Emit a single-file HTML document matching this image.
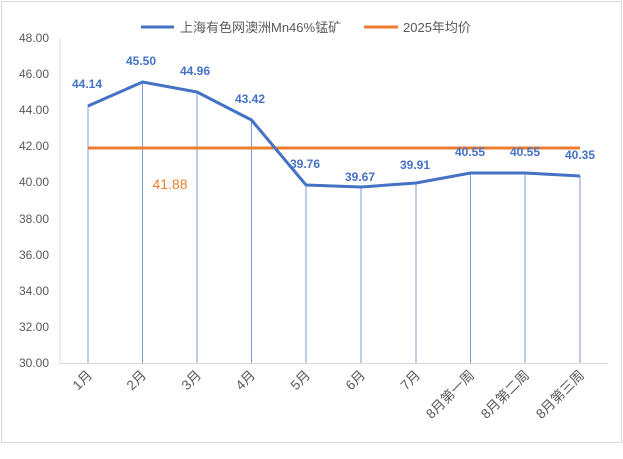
<!DOCTYPE html>
<html><head><meta charset="utf-8"><style>
html,body{margin:0;padding:0;background:#fff;}
svg text{font-family:"Liberation Sans","Noto Sans CJK SC",sans-serif;}
</style></head><body>
<svg width="623" height="454" xmlns="http://www.w3.org/2000/svg">
<rect x="1.5" y="1.5" width="620" height="441" fill="#fff" stroke="#d9d9d9"/>
<g stroke="#d9d9d9" stroke-width="1">
<line x1="60" y1="38" x2="60" y2="363"/>
<line x1="60" y1="363.5" x2="608" y2="363.5"/>
</g>
<g font-size="12" fill="#595959" text-anchor="end">
<text x="49" y="42">48.00</text><text x="49" y="78">46.00</text><text x="49" y="114">44.00</text>
<text x="49" y="150">42.00</text><text x="49" y="186">40.00</text><text x="49" y="223">38.00</text>
<text x="49" y="259">36.00</text><text x="49" y="295">34.00</text><text x="49" y="331">32.00</text>
<text x="49" y="367">30.00</text>
</g>
<g stroke="#4472c4" stroke-width="0.7">
<line x1="88" y1="106" x2="88" y2="363"/><line x1="142.5" y1="82" x2="142.5" y2="363"/>
<line x1="197" y1="92" x2="197" y2="363"/><line x1="251.5" y1="120" x2="251.5" y2="363"/>
<line x1="306" y1="185" x2="306" y2="363"/><line x1="361" y1="187" x2="361" y2="363"/>
<line x1="416" y1="183" x2="416" y2="363"/><line x1="470.5" y1="173" x2="470.5" y2="363"/>
<line x1="525" y1="173" x2="525" y2="363"/><line x1="580" y1="176" x2="580" y2="363"/>
</g>
<line x1="88" y1="148" x2="580" y2="148" stroke="#ed7d31" stroke-width="3"/>
<polyline fill="none" stroke="#4472c4" stroke-width="3" stroke-linejoin="round"
points="88,106 142.5,82 197,92 251.5,120 306,185 361,187 416,183 470.5,173 525,173 580,176"/>
<g font-size="12" font-weight="bold" fill="#4472c4" text-anchor="middle">
<text x="87" y="88">44.14</text><text x="141" y="65">45.50</text><text x="195" y="75">44.96</text>
<text x="250" y="103">43.42</text><text x="305" y="168">39.76</text><text x="360" y="181">39.67</text>
<text x="415" y="169">39.91</text><text x="470" y="156">40.55</text><text x="525" y="156">40.55</text>
<text x="580" y="159">40.35</text>
</g>
<text x="170" y="189" font-size="14" fill="#ed7d31" text-anchor="middle">41.88</text>
<g font-size="13.5" fill="#595959" text-anchor="end">
<text transform="translate(93,376) rotate(-45)">1月</text>
<text transform="translate(147,376) rotate(-45)">2月</text>
<text transform="translate(202,376) rotate(-45)">3月</text>
<text transform="translate(256,376) rotate(-45)">4月</text>
<text transform="translate(311,376) rotate(-45)">5月</text>
<text transform="translate(366,376) rotate(-45)">6月</text>
<text transform="translate(421,376) rotate(-45)">7月</text>
<text transform="translate(475,376) rotate(-45)">8月第一周</text>
<text transform="translate(530,376) rotate(-45)">8月第二周</text>
<text transform="translate(585,376) rotate(-45)">8月第三周</text>
</g>
<line x1="141" y1="27" x2="174" y2="27" stroke="#4472c4" stroke-width="3"/>
<text x="180" y="32" font-size="13" fill="#595959">上海有色网澳洲Mn46%锰矿</text>
<line x1="364" y1="27" x2="398" y2="27" stroke="#ed7d31" stroke-width="3"/>
<text x="403" y="32" font-size="13" fill="#595959">2025年均价</text>
</svg>
</body></html>
